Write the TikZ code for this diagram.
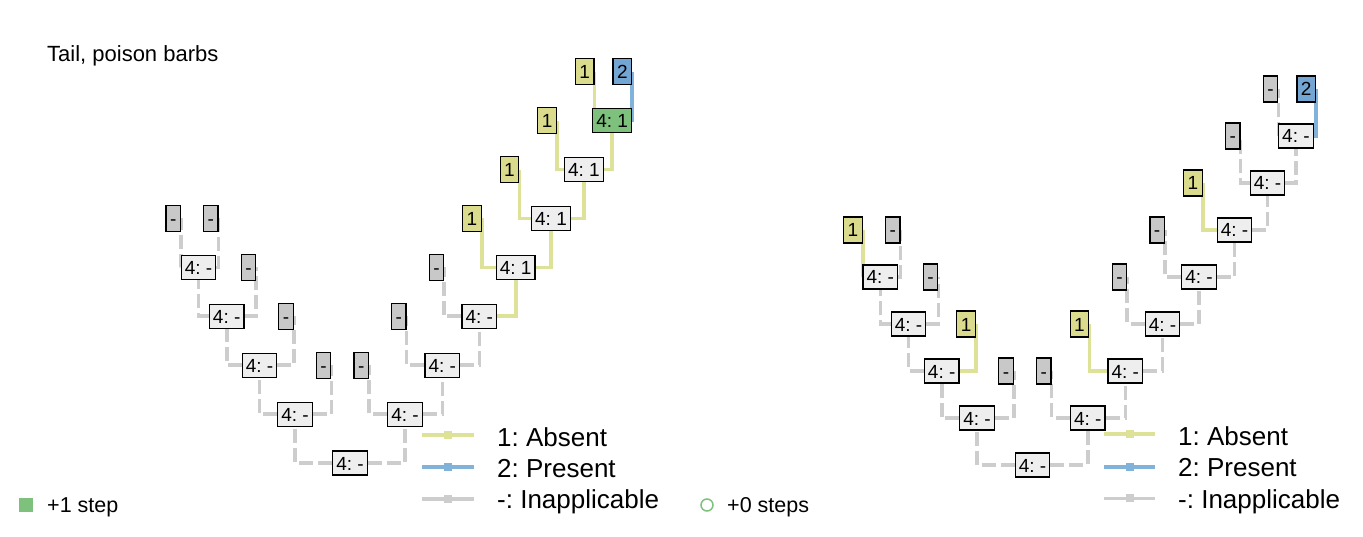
\documentclass[tikz,border=0pt]{standalone}
\usepackage{fontspec}
\setmainfont{Liberation Sans}
\frenchspacing
\usetikzlibrary{backgrounds}
\definecolor{absentfill}{RGB}{219,219,141}
\definecolor{absentline}{RGB}{222,225,152}
\definecolor{presentfill}{RGB}{115,166,210}
\definecolor{presentline}{RGB}{128,178,218}
\definecolor{inappfill}{RGB}{200,200,200}
\definecolor{inappline}{RGB}{205,205,205}
\definecolor{nodefill}{RGB}{238,238,238}
\definecolor{stepgreen}{RGB}{125,193,125}
\begin{document}
\begin{tikzpicture}[x=1pt, y=-1pt,
  tiplab/.style={draw=black, line width=1.2pt, anchor=east, inner xsep=4pt, inner ysep=6pt,
    text height=14pt, text depth=0pt, font=\fontsize{19}{19}\selectfont},
  nodelab/.style={draw=black, line width=1.2pt, fill=nodefill, inner xsep=3.5pt, inner ysep=5pt,
    text height=14pt, text depth=0pt, font=\fontsize{19}{19}\selectfont},
  absentlink/.style={draw=absentline, line width=3.6pt},
  presentlink/.style={draw=presentline, line width=3.6pt},
  inapplink/.style={draw=inappline, line width=3.6pt, dash pattern=on 14pt off 5pt},
  keymark/.style={minimum size=8pt, inner sep=0pt},
  keylab/.style={anchor=base west, inner sep=0pt, font=\fontsize{26}{26}\selectfont}]
\useasboundingbox (0,0) rectangle (1363,537);
\node[anchor=base west, inner sep=0pt, font=\fontsize{22}{22}\selectfont] (title) at (47,61.7) {Tail, poison barbs};
% left tree
\node[tiplab, fill=inappfill] (lid1) at (181,218.5){-};
\node[tiplab, fill=inappfill] (lid2) at (218.6,218.5){-};
\node[tiplab, fill=inappfill] (lid3) at (256.2,267.4){-};
\node[tiplab, fill=inappfill] (lid4) at (293.8,316.3){-};
\node[tiplab, fill=inappfill] (lid5) at (331.4,365.2){-};
\node[tiplab, fill=inappfill] (lid6) at (369,365.2){-};
\node[tiplab, fill=inappfill] (lid7) at (406.6,316.3){-};
\node[tiplab, fill=inappfill] (lid8) at (444.2,267.4){-};
\node[tiplab, fill=absentfill] (lid9) at (481.8,218.5){1};
\node[tiplab, fill=absentfill] (lid10) at (519.4,169.6){1};
\node[tiplab, fill=absentfill] (lid11) at (557,120.7){1};
\node[tiplab, fill=absentfill] (lid12) at (594.6,71.8){1};
\node[tiplab, fill=presentfill] (lid13) at (632.2,71.8){2};
\node[nodelab] (lid14) at (350,463){4: -};
\node[nodelab] (lid15) at (295,414.1){4: -};
\node[nodelab] (lid16) at (259.6,365.2){4: -};
\node[nodelab] (lid17) at (226.7,316.3){4: -};
\node[nodelab] (lid18) at (198.5,267.4){4: -};
\node[nodelab] (lid19) at (405,414.1){4: -};
\node[nodelab] (lid20) at (442.3,365.2){4: -};
\node[nodelab] (lid21) at (479.3,316.3){4: -};
\node[nodelab] (lid22) at (515.7,267.4){4: 1};
\node[nodelab] (lid23) at (551,218.5){4: 1};
\node[nodelab] (lid24) at (583.9,169.6){4: 1};
\node[nodelab, fill=stepgreen] (lid25) at (612.1,120.7){4: 1};
\begin{scope}[on background layer]
\draw[inapplink](lid18) -| (lid1.east);
\draw[inapplink](lid18) -| (lid2.east);
\draw[inapplink](lid17) -| (lid18);
\draw[inapplink](lid17) -| (lid3.east);
\draw[inapplink](lid16) -| (lid17);
\draw[inapplink](lid16) -| (lid4.east);
\draw[inapplink](lid15) -| (lid16);
\draw[inapplink](lid15) -| (lid5.east);
\draw[inapplink](lid14) -| (lid15);
\draw[inapplink](lid14) -| (lid19);
\draw[inapplink](lid19) -| (lid6.east);
\draw[inapplink](lid19) -| (lid20);
\draw[inapplink](lid20) -| (lid7.east);
\draw[inapplink](lid20) -| (lid21);
\draw[inapplink](lid21) -| (lid8.east);
\draw[absentlink](lid21) -| (lid22);
\draw[absentlink](lid22) -| (lid9.east);
\draw[absentlink](lid22) -| (lid23);
\draw[absentlink](lid23) -| (lid10.east);
\draw[absentlink](lid23) -| (lid24);
\draw[absentlink](lid24) -| (lid11.east);
\draw[absentlink](lid24) -| (lid25);
\draw[absentlink](lid25) -| (lid12.east);
\draw[presentlink](lid25) -| (lid13.east);
\end{scope}
% left key
\draw[absentlink](422,435) -- (474,435) node[midway, keymark, fill=absentline] (lkey1){};
\draw[presentlink](422,467) -- (474,467) node[midway, keymark, fill=presentline] (lkey2){};
\draw[inappline, line width=3.6pt](422,499) -- (474,499) node[midway, keymark, fill=inappline] (lkey3){};
\node[keylab] (ltext1) at (497,446){1: Absent};
\node[keylab] (ltext2) at (497,477){2: Present};
\node[keylab] (ltext3) at (497,508){-: Inapplicable};
\node[minimum size=14pt, inner sep=0pt, fill=stepgreen] (lstep) at (26,505){};
\node[anchor=base west, inner sep=0pt, font=\fontsize{21.5}{21.5}\selectfont] (lsteptext) at (47,512.7){+1 step};
% right tree
\node[tiplab, fill=absentfill] (rid1) at (862.7,230){1};
\node[tiplab, fill=inappfill] (rid2) at (900.5,230){-};
\node[tiplab, fill=inappfill] (rid3) at (938.3,277){-};
\node[tiplab, fill=absentfill] (rid4) at (976,324){1};
\node[tiplab, fill=inappfill] (rid5) at (1013.8,371){-};
\node[tiplab, fill=inappfill] (rid6) at (1051.6,371){-};
\node[tiplab, fill=absentfill] (rid7) at (1089.4,324){1};
\node[tiplab, fill=inappfill] (rid8) at (1127.2,277){-};
\node[tiplab, fill=inappfill] (rid9) at (1164.9,230){-};
\node[tiplab, fill=absentfill] (rid10) at (1202.7,183){1};
\node[tiplab, fill=inappfill] (rid11) at (1240.5,136){-};
\node[tiplab, fill=inappfill] (rid12) at (1278.3,89){-};
\node[tiplab, fill=presentfill] (rid13) at (1316.1,89){2};
\node[nodelab] (rid14) at (1032.5,465){4: -};
\node[nodelab] (rid15) at (977.1,418){4: -};
\node[nodelab] (rid16) at (941.7,371){4: -};
\node[nodelab] (rid17) at (908.6,324){4: -};
\node[nodelab] (rid18) at (880.3,277){4: -};
\node[nodelab] (rid19) at (1087.8,418){4: -};
\node[nodelab] (rid20) at (1125.3,371){4: -};
\node[nodelab] (rid21) at (1162.5,324){4: -};
\node[nodelab] (rid22) at (1199,277){4: -};
\node[nodelab] (rid23) at (1234.5,230){4: -};
\node[nodelab] (rid24) at (1267.5,183){4: -};
\node[nodelab] (rid25) at (1295.9,136){4: -};
\begin{scope}[on background layer]
\draw[absentlink](rid18) -| (rid1.east);
\draw[inapplink](rid18) -| (rid2.east);
\draw[inapplink](rid17) -| (rid18);
\draw[inapplink](rid17) -| (rid3.east);
\draw[inapplink](rid16) -| (rid17);
\draw[absentlink](rid16) -| (rid4.east);
\draw[inapplink](rid15) -| (rid16);
\draw[inapplink](rid15) -| (rid5.east);
\draw[inapplink](rid14) -| (rid15);
\draw[inapplink](rid14) -| (rid19);
\draw[inapplink](rid19) -| (rid6.east);
\draw[inapplink](rid19) -| (rid20);
\draw[absentlink](rid20) -| (rid7.east);
\draw[inapplink](rid20) -| (rid21);
\draw[inapplink](rid21) -| (rid8.east);
\draw[inapplink](rid21) -| (rid22);
\draw[inapplink](rid22) -| (rid9.east);
\draw[inapplink](rid22) -| (rid23);
\draw[absentlink](rid23) -| (rid10.east);
\draw[inapplink](rid23) -| (rid24);
\draw[inapplink](rid24) -| (rid11.east);
\draw[inapplink](rid24) -| (rid25);
\draw[inapplink](rid25) -| (rid12.east);
\draw[presentlink](rid25) -| (rid13.east);
\end{scope}
% right key
\draw[absentlink](1104,434) -- (1155,434) node[midway, keymark, fill=absentline] (rkey1){};
\draw[presentlink](1104,466.7) -- (1155,466.7) node[midway, keymark, fill=presentline] (rkey2){};
\draw[inappline, line width=3.6pt](1104,498.3) -- (1155,498.3) node[midway, keymark, fill=inappline] (rkey3){};
\node[keylab] (rtext1) at (1178,445){1: Absent};
\node[keylab] (rtext2) at (1178,476.7){2: Present};
\node[keylab] (rtext3) at (1178,508){-: Inapplicable};
\node[circle, draw=stepgreen, line width=1.5pt, minimum size=12pt, inner sep=0pt] (rstep) at (707,505){};
\node[anchor=base west, inner sep=0pt, font=\fontsize{21.5}{21.5}\selectfont] (rsteptext) at (727,512.7){+0 steps};
\end{tikzpicture}
\end{document}
